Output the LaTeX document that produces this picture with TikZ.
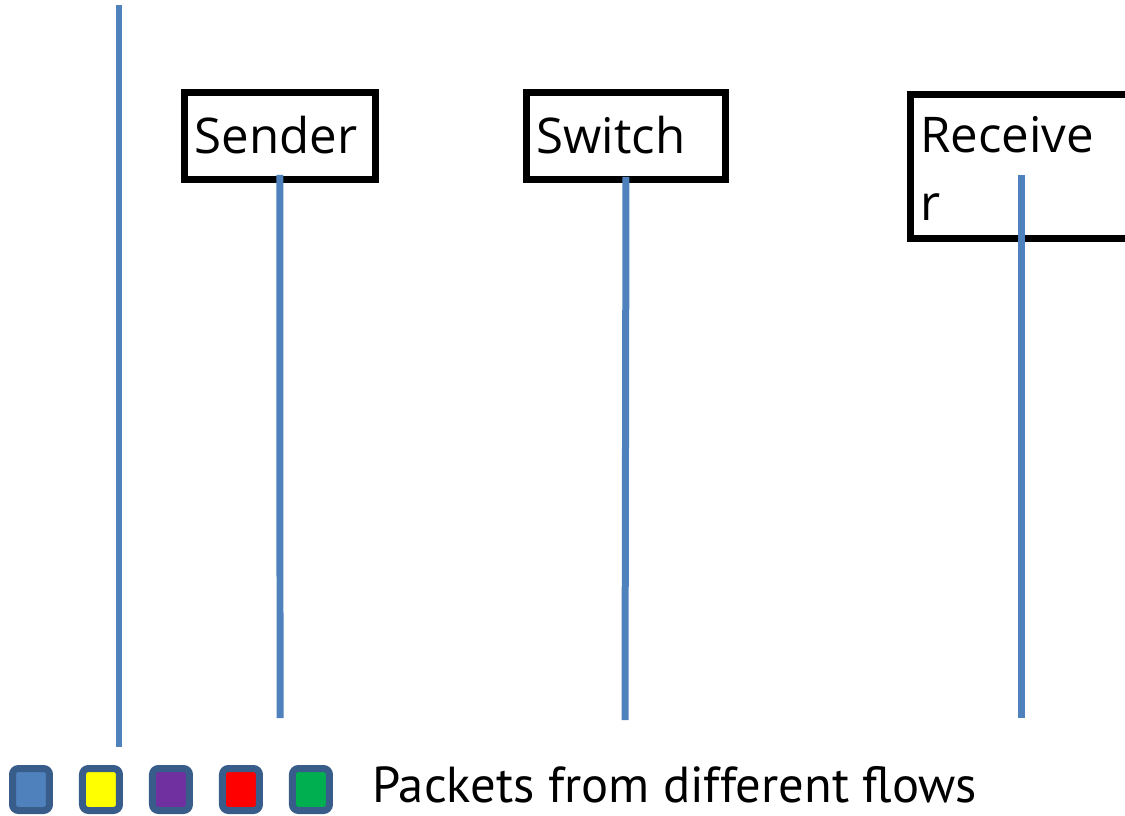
\documentclass[tikz,border=0pt]{standalone}
\usepackage{fontspec}
\setmainfont{Open Sans}
\newfontfamily\legendfont{PT Sans}
\usetikzlibrary{positioning}
\definecolor{flowblue}{HTML}{4F81BD}
\definecolor{flowedge}{HTML}{385D8A}
\definecolor{flowyellow}{HTML}{FFFF00}
\definecolor{flowpurple}{HTML}{7030A0}
\definecolor{flowred}{HTML}{FF0000}
\definecolor{flowgreen}{HTML}{00B050}
\tikzset{
	hostbox/.style={draw=black, line width=0.14cm, rectangle, anchor=north west, align=left,
		inner xsep=0.2cm, inner ysep=0.1cm, font=\fontsize{28}{38.6}\selectfont,
		text height=0.98cm, text depth=0.28cm},
	lifeline/.style={line width=0.14cm, color=flowblue},
	packet/.style={draw=flowedge, line width=0.14cm, rounded corners=0.12cm,
		minimum width=0.74cm, minimum height=0.84cm, inner sep=0pt},
}

\begin{document}
\begin{tikzpicture}[x=0.02cm, y=-0.02cm]
			%%%%% START %%%%%
			\useasboundingbox (0, 0) rectangle (1125, 815);
			\clip (0, 0) rectangle (1125, 815);
			
			% time axis
			\coordinate (axis top) at (119, 5);
			\coordinate (axis end) at (119, 747);
			\draw[line width=0.12cm, color=flowblue] (axis top) -- (axis end);
			
			% hosts
			\node[hostbox, minimum width=3.82cm, minimum height=1.74cm, text width=3.42cm] (sender) at (181, 89) {Sender};
			\node[hostbox, minimum width=3.98cm, minimum height=1.74cm, text width=3.58cm] (switch) at (523, 89) {Switch};
			\node[hostbox, minimum width=5cm, minimum height=2.88cm, text width=4.6cm, text depth=1.52cm] (receiver) at (907, 91) {Receive\\r};
			
			% lifelines
			\coordinate (sender top) at ([yshift=0.16cm]sender.south);
			\coordinate (sender end) at (280, 718);
			\coordinate (switch top) at ([yshift=0.12cm]switch.south);
			\coordinate (switch end) at (625, 720);
			\coordinate (receiver top) at (1021, 175);
			\coordinate (receiver end) at (1021, 718);
			\draw[lifeline] (sender top) -- (sender end);
			\draw[lifeline] (switch top) -- (switch end);
			\draw[lifeline] (receiver top) -- (receiver end);
			
			% legend
			\node[packet, fill=flowblue] (pkt1) at (31, 789.5) {};
			\node[packet, fill=flowyellow, right=0.52cm of pkt1] (pkt2) {};
			\node[packet, fill=flowpurple, right=0.52cm of pkt2] (pkt3) {};
			\node[packet, fill=flowred, right=0.52cm of pkt3] (pkt4) {};
			\node[packet, fill=flowgreen, right=0.52cm of pkt4] (pkt5) {};
			\node[anchor=base west, inner sep=0pt, font=\legendfont\fontsize{28.8}{34}\selectfont] (flows) at (372, 802) {Packets from different flows};
			
			%%%%% END %%%%%
\end{tikzpicture}
\end{document}
